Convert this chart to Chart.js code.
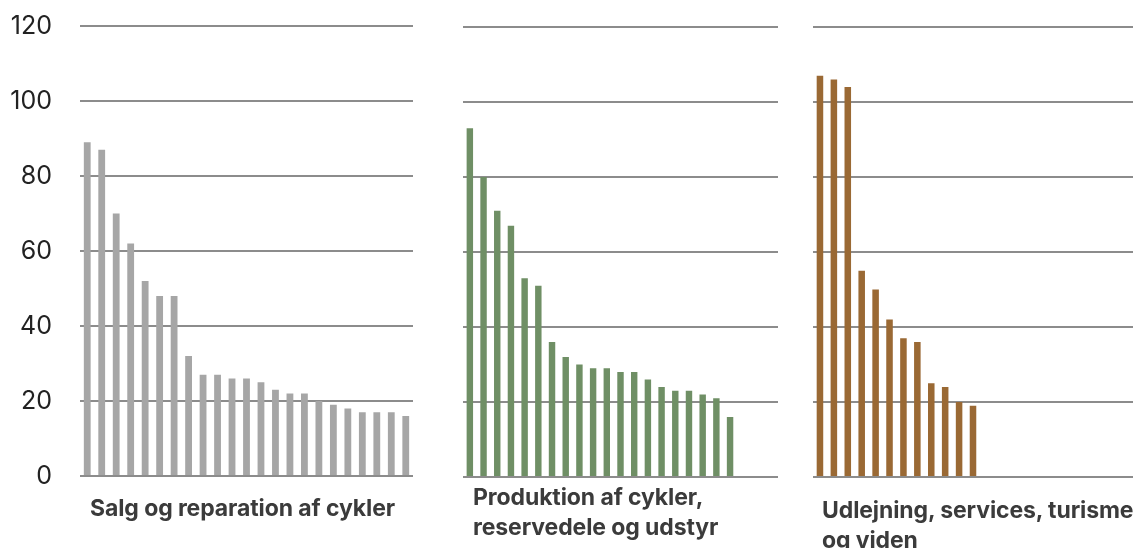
<!DOCTYPE html>
<html>
<head>
<meta charset="utf-8">
<script src="https://cdn.jsdelivr.net/npm/chart.js@4"></script>
<style>
  html, body { margin: 0; padding: 0; background: #fff; }
  body { width: 1143px; height: 548px; position: relative; overflow: hidden; font-family: Inter, "Noto Sans", sans-serif; }
  .wrap { position: absolute; }
  .title { position: absolute; font-family: Inter, sans-serif; font-weight: 700; font-size: 23px; color: #3b3b3b; line-height: 30px; white-space: nowrap; letter-spacing: -0.1px; }
</style>
</head>
<body>
<div class="wrap" style="left:0px;top:0px;width:413px;height:500px;"><canvas id="c1"></canvas></div>
<div class="wrap" style="left:463px;top:1px;width:315px;height:500px;"><canvas id="c2"></canvas></div>
<div class="wrap" style="left:813px;top:1px;width:320px;height:500px;"><canvas id="c3"></canvas></div>
<div class="title" id="t1" style="left:90px;top:493px;"></div>
<div class="title" id="t2" style="left:473px;top:482px;"></div>
<div class="title" id="t3" style="left:822px;top:495px;"></div>
<script>
// ----- data -----
const slots = ["1","2","3","4","5","6","7","8","9","10","11","12","13","14","15","16","17","18","19","20","21","22","23"];
const yTicks = [0, 20, 40, 60, 80, 100, 120];

const titleSalg = ["Salg og reparation af cykler"];
const valuesSalg = [89, 87, 70, 62, 52, 48, 48, 32, 27, 27, 26, 26, 25, 23, 22, 22, 20, 19, 18, 17, 17, 17, 16];

const titleProduktion = ["Produktion af cykler,", "reservedele og udstyr"];
const valuesProduktion = [93, 80, 71, 67, 53, 51, 36, 32, 30, 29, 29, 28, 28, 26, 24, 23, 23, 22, 21, 16];

const titleUdlejning = ["Udlejning, services, turisme", "og viden"];
const valuesUdlejning = [107, 106, 104, 55, 50, 42, 37, 36, 25, 24, 20, 19];

const colorSalg = "#a6a6a6";
const colorProduktion = "#6f8f65";
const colorUdlejning = "#9a6934";

// ----- charts -----
function makeChart(id, values, color, showTicks) {
  return new Chart(document.getElementById(id), {
    type: "bar",
    data: {
      labels: slots,
      datasets: [{
        data: values,
        backgroundColor: color,
        borderWidth: 0,
        barPercentage: 0.47,
        categoryPercentage: 1.0
      }]
    },
    options: {
      responsive: true,
      maintainAspectRatio: false,
      animation: false,
      layout: { padding: { top: 26, bottom: 24, left: 0, right: 0 } },
      plugins: { legend: { display: false }, tooltip: { enabled: false }, title: { display: false } },
      scales: {
        x: {
          display: false,
          offset: true,
          grid: { display: false }
        },
        y: {
          min: 0,
          max: 120,
          afterBuildTicks: (s) => { s.ticks = yTicks.map(v => ({ value: v })); },
          afterFit: (s) => {
            s.width = showTicks ? 80 : 0;
            s.paddingTop = 0; s.paddingBottom = 0; s.paddingLeft = 0; s.paddingRight = 0;
          },
          border: { display: false },
          grid: { color: "#8c8c8c", lineWidth: 2, drawTicks: false },
          ticks: {
            display: showTicks,
            padding: 28,
            color: "#222",
            font: { family: "Inter", size: 25, weight: "400" }
          }
        }
      }
    }
  });
}

makeChart("c1", valuesSalg, colorSalg, true);
makeChart("c2", valuesProduktion, colorProduktion, false);
makeChart("c3", valuesUdlejning, colorUdlejning, false);

document.getElementById("t1").innerHTML = titleSalg.join("<br>");
document.getElementById("t2").innerHTML = titleProduktion.join("<br>");
document.getElementById("t3").innerHTML = titleUdlejning.join("<br>");
</script>
</body>
</html>
